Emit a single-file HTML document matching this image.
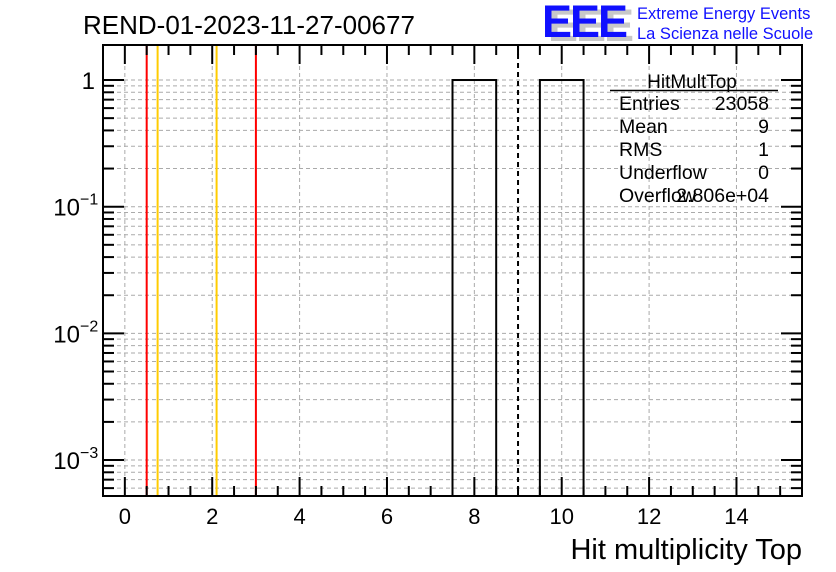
<!DOCTYPE html>
<html><head><meta charset="utf-8"><style>
body{margin:0;background:#fff}
svg{display:block;font-family:"Liberation Sans",sans-serif}
</style></head><body>
<svg id="c" width="836" height="572">
<rect width="836" height="572" fill="#fff"/>
<g id="grid"></g>
<g id="marks"></g>
<g id="axes"></g>
<text x="83" y="34" font-size="26">REND-01-2023-11-27-00677</text>
<g>
<text x="548" y="41" font-size="45" font-weight="bold" fill="#c8c8c8" letter-spacing="-2">EEE</text>
<text x="542" y="37" font-size="45" font-weight="bold" fill="#1010ff" letter-spacing="-2">EEE</text>
<text x="637" y="19" font-size="16.5" fill="#1010ff">Extreme Energy Events</text>
<text x="637" y="39" font-size="16.5" fill="#1010ff">La Scienza nelle Scuole</text>
</g>
<text x="802" y="559" font-size="29" text-anchor="end">Hit multiplicity Top</text>
<g font-size="19.5">
<text x="692" y="88" text-anchor="middle" font-size="19">HitMultTop</text>
<line x1="610" y1="90.5" x2="778" y2="90.5" stroke="#000" stroke-width="1.5"/>
<text x="619" y="110">Entries</text><text x="769" y="110" text-anchor="end">23058</text>
<text x="619" y="133">Mean</text><text x="769" y="133" text-anchor="end">9</text>
<text x="619" y="156">RMS</text><text x="769" y="156" text-anchor="end">1</text>
<text x="619" y="179">Underflow</text><text x="769" y="179" text-anchor="end">0</text>
<text x="619" y="202">Overflow</text><text x="769" y="202" text-anchor="end">2.806e+04</text>
</g>
</svg>
<script>
const binLows=[7.5,9.5];
const binValues=[1,1];
const redLines=[0.5,3];
const yellowLines=[0.75,2.1];
const meanLine=[9];
const xTicks=[0,2,4,6,8,10,12,14];
const yDecades=[0,-1,-2,-3];
const L=103,R=802,T=45,B=496,xmin=-0.5,xmax=15.5;
const ymaxLog=Math.log10(1.89),yminLog=Math.log10(0.00052);
const X=v=>L+(v-xmin)/(xmax-xmin)*(R-L);
const Y=v=>T+(ymaxLog-Math.log10(v))/(ymaxLog-yminLog)*(B-T);
const NS="http://www.w3.org/2000/svg";
function mk(p,t,a){const e=document.createElementNS(NS,t);for(const k in a)e.setAttribute(k,a[k]);p.appendChild(e);return e;}
const grid=document.getElementById('grid'),marks=document.getElementById('marks'),axes=document.getElementById('axes');
xTicks.forEach(t=>{const l=mk(grid,'line',{x1:X(t),x2:X(t),y1:T,y2:B,stroke:'#aaa','stroke-dasharray':'4,3'});

});
for(let d=-4;d<=0;d++){for(let m=1;m<=9;m++){const v=m*Math.pow(10,d);if(v<0.00052||v>1.89)continue;const y=Y(v);
const g=mk(grid,'line',{x1:L,x2:R,y1:y,y2:y,stroke:'#aaa','stroke-dasharray':'4,3'});


const len=m===1?21:11;
mk(axes,'line',{x1:L,x2:L+len,y1:y,y2:y,stroke:'#000','stroke-width':2});
mk(axes,'line',{x1:R,x2:R-len,y1:y,y2:y,stroke:'#000','stroke-width':2});}}
binLows.forEach((b,i)=>{const r=mk(marks,'rect',{x:X(b),y:Y(binValues[i]),width:X(b+1)-X(b),height:B-Y(binValues[i]),fill:'none',stroke:'#000','stroke-width':2});

});
redLines.forEach(v=>{const l=mk(marks,'line',{x1:X(v),x2:X(v),y1:T,y2:B,stroke:'#f00','stroke-width':2});

});
yellowLines.forEach(v=>{const l=mk(marks,'line',{x1:X(v),x2:X(v),y1:T,y2:B,stroke:'#fc0','stroke-width':2});

});
meanLine.forEach(v=>{const l=mk(marks,'line',{x1:X(v),x2:X(v),y1:T,y2:B,stroke:'#000','stroke-width':2,'stroke-dasharray':'5,4'});

});
const f=mk(axes,'rect',{x:L,y:T,width:R-L,height:B-T,fill:'none',stroke:'#000','stroke-width':2});


for(let v=0;v<=15.01;v+=0.5){const maj=Math.abs(v%2)<1e-6,len=maj?19:10;
mk(axes,'line',{x1:X(v),x2:X(v),y1:B,y2:B-len,stroke:'#000','stroke-width':2});
mk(axes,'line',{x1:X(v),x2:X(v),y1:T,y2:T+len,stroke:'#000','stroke-width':2});}
xTicks.forEach(t=>{const tx=mk(axes,'text',{x:X(t),y:524,'font-size':22,'text-anchor':'middle'});tx.textContent=t;

});
yDecades.forEach(d=>{const y=Y(Math.pow(10,d));const tx=mk(axes,'text',{x:d===0?95:80,y:y+9,'font-size':24,'text-anchor':'end'});


if(d===0){tx.textContent='1';}else{tx.textContent='10';const s=mk(axes,'text',{x:80,y:y-2,'font-size':16});s.textContent='\u2212'+(-d);}});
</script>
</body></html>
